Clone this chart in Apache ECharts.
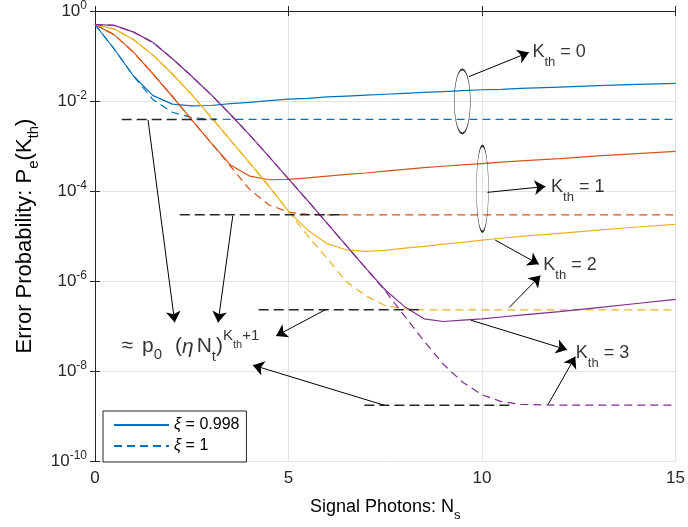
<!DOCTYPE html>
<html>
<head>
<meta charset="utf-8">
<script src="https://cdn.jsdelivr.net/npm/echarts@6/dist/echarts.min.js"></script>
<style>
  html, body { margin: 0; background: #fff; }
  #chart { width: 688px; height: 527px; }
</style>
</head>
<body>
<div id="chart"></div>
<script>
// x: signal photons N_s
const xs = [0, 0.5, 1, 1.5, 2, 2.5, 3, 3.5, 4, 4.5, 5, 5.5, 6, 6.5, 7, 7.5, 8, 8.5, 9, 9.5, 10, 10.5, 11, 12, 13, 14, 15]

// log10 of error probability
// solid = xi 0.998, dashed = xi 1
const k0Real = [-0.30, -0.85, -1.45, -1.88, -2.07, -2.11, -2.10, -2.06, -2.03, -1.99, -1.96, -1.94, -1.91, -1.89, -1.87, -1.85, -1.83, -1.81, -1.79, -1.77, -1.75, -1.74, -1.72, -1.69, -1.66, -1.63, -1.61]
const k0Ideal = [-0.30, -0.85, -1.45, -1.97, -2.25, -2.37, -2.40, -2.41, -2.41, -2.41, -2.41, -2.41, -2.41, -2.41, -2.41, -2.41, -2.41, -2.41, -2.41, -2.41, -2.41, -2.41, -2.41, -2.41, -2.41, -2.41, -2.41]
const k1Real = [-0.30, -0.53, -0.92, -1.40, -1.90, -2.42, -2.93, -3.42, -3.67, -3.75, -3.74, -3.71, -3.67, -3.63, -3.60, -3.56, -3.52, -3.48, -3.45, -3.42, -3.39, -3.36, -3.33, -3.28, -3.22, -3.17, -3.12]
const k1Ideal = [-0.30, -0.53, -0.92, -1.40, -1.90, -2.42, -2.93, -3.45, -3.97, -4.31, -4.47, -4.52, -4.53, -4.53, -4.53, -4.53, -4.53, -4.53, -4.53, -4.53, -4.53, -4.53, -4.53, -4.53, -4.53, -4.53, -4.53]
const k2Real = [-0.30, -0.40, -0.64, -0.98, -1.40, -1.86, -2.36, -2.87, -3.38, -3.90, -4.45, -4.87, -5.17, -5.31, -5.34, -5.32, -5.27, -5.23, -5.18, -5.14, -5.09, -5.05, -5.01, -4.94, -4.87, -4.80, -4.74]
const k2Ideal = [-0.30, -0.40, -0.64, -0.98, -1.40, -1.86, -2.36, -2.87, -3.38, -3.90, -4.45, -5.00, -5.50, -6.02, -6.33, -6.55, -6.62, -6.64, -6.64, -6.64, -6.64, -6.64, -6.64, -6.64, -6.64, -6.64, -6.64]
const k3Real = [-0.30, -0.32, -0.47, -0.70, -1.06, -1.45, -1.86, -2.30, -2.76, -3.24, -3.73, -4.22, -4.72, -5.22, -5.72, -6.20, -6.57, -6.84, -6.90, -6.87, -6.84, -6.80, -6.76, -6.68, -6.59, -6.50, -6.41]
const k3Ideal = [-0.30, -0.32, -0.47, -0.70, -1.06, -1.45, -1.86, -2.30, -2.76, -3.24, -3.73, -4.22, -4.72, -5.22, -5.72, -6.22, -6.78, -7.33, -7.85, -8.25, -8.53, -8.68, -8.74, -8.76, -8.76, -8.76, -8.76]

// black dashed floor lines (approximation p0 (eta Nt)^(K+1))
const refLevel = [-2.41, -4.53, -6.64, -8.76]
const refStart = [0.69, 2.19, 4.23, 6.96]
const refEnd = [3.13, 6.39, 8.38, 10.8]

// annotation arrows [x1, y1, x2, y2] in data units
const arrows = [
  [9.66, -1.46, 11.21, -0.92],
  [10.14, -4.03, 11.64, -3.90],
  [10.34, -5.09, 11.47, -5.63],
  [10.70, -6.59, 11.51, -5.88],
  [9.71, -6.87, 12.20, -7.53],
  [11.71, -8.74, 12.41, -7.68],
  [1.37, -2.42, 2.06, -6.92],
  [3.56, -4.55, 3.18, -6.92],
  [5.97, -6.63, 4.68, -7.22],
  [7.47, -8.76, 4.08, -7.87],
]

// ellipses round the curve pairs
const ellipseCenter = [[9.49, -2.01], [10.01, -3.95]]
const ellipseSize = [[16, 64], [12, 86]]

// text annotations
const noteTexts = [
  '{k|K}{s|th}{k| = 0}',
  '{k|K}{s|th}{k| = 1}',
  '{k|K}{s|th}{k| = 2}',
  '{k|K}{s|th}{k| = 3}',
  '{m|≈}{mp|p}{sb|0}{mq|(}{g|η}{mn|N}{st|t}{m|)}{sp|K}{ss|th}{sp|+1}',
]
const notePos = [[11.29, -0.92], [11.77, -3.91], [11.57, -5.65], [12.41, -7.61], [0.67, -7.46]]

const font = '"Liberation Sans", Arial, Helvetica, sans-serif'
const ink = '#262626'
const gridColor = '#e3e3e3'
const colors = { k0: '#0072BD', k1: '#D95319', k2: '#EDB120', k3: '#7E2F8E' }

const chart = echarts.init(document.getElementById('chart'))

function curve(name, ys, color, dashed) {
  return {
    name,
    type: 'line',
    data: xs.map((x, i) => [x, ys[i]]),
    symbol: 'none',
    showSymbol: false,
    lineStyle: { color, width: 1.2, type: dashed ? [8, 5] : 'solid' },
    itemStyle: { color },
    z: 2,
    silent: true,
  }
}

const tok = (size, pad) => ({ fontSize: size, fontFamily: font, color: '#000', verticalAlign: 'middle', padding: pad || 0 })

const series = [
  curve('ξ = 0.998', k0Real, colors.k0, false),
  curve('ξ = 1', k0Ideal, colors.k0, true),
  curve('k1 real', k1Real, colors.k1, false),
  curve('k1 ideal', k1Ideal, colors.k1, true),
  curve('k2 real', k2Real, colors.k2, false),
  curve('k2 ideal', k2Ideal, colors.k2, true),
  curve('k3 real', k3Real, colors.k3, false),
  curve('k3 ideal', k3Ideal, colors.k3, true),
]

refLevel.forEach((lv, i) => {
  series.push({
    name: 'ref' + i,
    type: 'line',
    data: [[refStart[i], lv], [refEnd[i], lv]],
    symbol: 'none',
    lineStyle: { color: '#262626', width: 1.5, type: [10, 5] },
    z: 3,
    silent: true,
  })
})

series.push({
  name: 'arrows',
  type: 'line',
  data: [],
  silent: true,
  z: 4,
  markLine: {
    silent: true,
    animation: false,
    symbol: ['none', 'arrow'],
    symbolSize: 11,
    label: { show: false },
    lineStyle: { color: '#000', width: 1, type: 'solid' },
    data: arrows.map(a => [{ coord: [a[0], a[1]] }, { coord: [a[2], a[3]] }]),
  },
})

series.push({
  name: 'ellipses',
  type: 'scatter',
  data: ellipseCenter,
  symbol: 'circle',
  symbolSize: (v, p) => ellipseSize[p.dataIndex],
  itemStyle: { color: 'rgba(0,0,0,0)', borderColor: '#000', borderWidth: 1 },
  silent: true,
  z: 4,
})

series.push({
  name: 'notes',
  type: 'scatter',
  data: notePos,
  symbolSize: 1,
  itemStyle: { color: 'rgba(0,0,0,0)' },
  silent: true,
  z: 5,
  label: {
    show: true,
    position: 'right',
    distance: 0,
    formatter: p => noteTexts[p.dataIndex],
    rich: {
      k: tok(18),
      s: tok(13, [20, 0, 0, 0]),
      m: tok(21),
      mp: tok(21, [0, 0, 0, 9]),
      mq: tok(21, [0, 0, 0, 13]),
      mn: tok(21, [0, 0, 0, 3]),
      g: Object.assign(tok(21), { fontStyle: 'italic' }),
      sb: tok(15, [17, 0, 0, 0]),
      st: tok(15, [20, 0, 0, 0]),
      sp: tok(15, [0, 0, 22, 0]),
      ss: tok(11, [0, 0, 3, 0]),
    },
  },
})

const tickLabel = v => '{b|10}{s|' + v + '}'

chart.setOption({
  animation: false,
  backgroundColor: '#fff',
  grid: { left: 95, right: 11, top: 11, bottom: 65, containLabel: false },
  legend: {
    data: ['ξ = 0.998', 'ξ = 1'],
    orient: 'vertical',
    left: 103,
    top: 411,
    itemWidth: 55,
    itemHeight: 12,
    itemGap: 5,
    padding: [6, 7, 8, 10],
    borderColor: ink,
    borderWidth: 1,
    borderRadius: 0,
    backgroundColor: '#fff',
    selectedMode: false,
    itemStyle: { opacity: 0 },
    formatter: n => n.replace('ξ', '{i|ξ}'),
    textStyle: {
      fontSize: 16,
      fontFamily: font,
      color: '#000',
      rich: { i: { fontSize: 16, fontFamily: font, fontStyle: 'italic', color: '#000' } },
    },
  },
  xAxis: [
    {
      type: 'value',
      min: 0,
      max: 15,
      interval: 5,
      axisLine: { show: true, lineStyle: { color: ink } },
      axisTick: { show: true, inside: true, length: 5, lineStyle: { color: ink } },
      splitLine: { show: true, lineStyle: { color: gridColor } },
      axisLabel: { margin: 9, fontSize: 17, fontFamily: font, color: ink },
      name: '{a|Signal Photons: N}{s|s}',
      nameLocation: 'middle',
      nameGap: 32,
      nameMoveOverlap: false,
      nameTextStyle: {
        rich: { a: tok(18), s: tok(13, [16, 0, 0, 0]) },
      },
    },
    {
      type: 'value',
      position: 'top',
      min: 0,
      max: 15,
      interval: 5,
      axisLine: { show: true, lineStyle: { color: ink } },
      axisTick: { show: true, inside: true, length: 5, lineStyle: { color: ink } },
      splitLine: { show: false },
      axisLabel: { show: false },
    },
  ],
  yAxis: [
    {
      type: 'value',
      min: -10,
      max: 0,
      interval: 2,
      axisLine: { show: true, lineStyle: { color: ink } },
      axisTick: { show: true, inside: true, length: 5, lineStyle: { color: ink } },
      splitLine: { show: true, lineStyle: { color: gridColor } },
      axisLabel: {
        margin: 8,
        formatter: tickLabel,
        rich: {
          b: { fontSize: 17, fontFamily: font, color: ink, verticalAlign: 'middle' },
          s: { fontSize: 12, fontFamily: font, color: ink, verticalAlign: 'middle', padding: [0, 0, 10, 0] },
        },
      },
      name: '{a|Error Probability: P}{s|e}{a|(K}{s|th}{a|)}',
      nameLocation: 'middle',
      nameRotate: 90,
      nameGap: 54,
      nameMoveOverlap: false,
      nameTextStyle: {
        rich: { a: tok(22), s: tok(15, [18, 0, 0, 0]) },
      },
    },
    {
      type: 'value',
      position: 'right',
      min: -10,
      max: 0,
      interval: 2,
      axisLine: { show: true, lineStyle: { color: ink } },
      axisTick: { show: true, inside: true, length: 5, lineStyle: { color: ink } },
      splitLine: { show: false },
      axisLabel: { show: false },
    },
  ],
  series,
})
</script>
</body>
</html>
